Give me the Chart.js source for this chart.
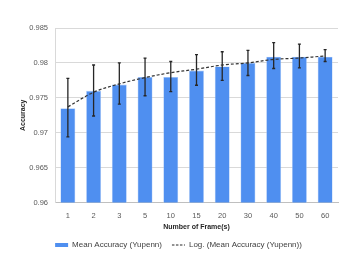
<!DOCTYPE html>
<html>
<head>
<meta charset="utf-8">
<script src="https://cdn.jsdelivr.net/npm/chart.js@4/dist/chart.umd.min.js"></script>
<style>
  html, body { margin: 0; padding: 0; background: #fff; }
  #wrap { width: 349px; height: 262px; }
</style>
</head>
<body>
<div id="wrap"><canvas id="accChart" width="349" height="262"></canvas></div>
<script>
// categories (number of frames)
const frames = ["1", "2", "3", "5", "10", "15", "20", "30", "40", "50", "60"];
// mean accuracy per category
const meanAcc = [0.9735, 0.9760, 0.9769, 0.9780, 0.9780, 0.9789, 0.9795, 0.9800, 0.9809, 0.9809, 0.9809];
// error bar ends
const errHigh = [0.9778, 0.9797, 0.9800, 0.9807, 0.9802, 0.9812, 0.9816, 0.9818, 0.9829, 0.9827, 0.9819];
const errLow = [0.9694, 0.9724, 0.9741, 0.9753, 0.9759, 0.9768, 0.9775, 0.9782, 0.9792, 0.9793, 0.9802];
// log trend line
const trendAcc = [0.9737, 0.9758, 0.9770, 0.9779, 0.9786, 0.9791, 0.9797, 0.9800, 0.9805, 0.9807, 0.9810];
// y ticks
const yTicks = [0.96, 0.965, 0.97, 0.975, 0.98, 0.985];

const labelFont = "'Liberation Sans', Arial, sans-serif";
const barColor = "#4f8ff0";

// error bars drawn on top of the bars
const errorBars = {
    id: "errorBars",
    afterDatasetsDraw(chart) {
        const meta = chart.getDatasetMeta(0);
        const y = chart.scales.y;
        const ctx = chart.ctx;
        ctx.save();
        ctx.strokeStyle = "#262626";
        ctx.lineWidth = 1.3;
        meta.data.forEach((bar, i) => {
            const yTop = y.getPixelForValue(errHigh[i]);
            const yBot = y.getPixelForValue(errLow[i]);
            ctx.beginPath();
            ctx.moveTo(bar.x, yTop);
            ctx.lineTo(bar.x, yBot);
            ctx.moveTo(bar.x - 1.5, yTop);
            ctx.lineTo(bar.x + 1.5, yTop);
            ctx.moveTo(bar.x - 1.5, yBot);
            ctx.lineTo(bar.x + 1.5, yBot);
            ctx.stroke();
        });
        ctx.restore();
    }
};

new Chart(document.getElementById("accChart"), {
    data: {
        labels: frames,
        datasets: [
            {
                type: "bar",
                label: "Mean Accuracy (Yupenn)",
                data: meanAcc,
                backgroundColor: barColor,
                borderColor: "#a9c8f7",
                borderWidth: 0.6,
                categoryPercentage: 1,
                barPercentage: 0.58,
                order: 2
            },
            {
                type: "line",
                label: "Log. (Mean Accuracy (Yupenn))",
                data: trendAcc,
                borderColor: "#333333",
                borderWidth: 1.2,
                borderDash: [3, 2],
                pointRadius: 0,
                tension: 0.35,
                fill: false,
                order: 1
            }
        ]
    },
    options: {
        responsive: false,
        animation: false,
        devicePixelRatio: 1,
        layout: {padding: {left: 19, right: 11, top: 28, bottom: 3}},
        scales: {
            x: {
                grid: {display: false},
                border: {display: true, color: "#bfbfbf", width: 1},
                ticks: {
                    color: "#595959",
                    font: {family: labelFont, size: 7.5},
                    padding: 1,
                    maxRotation: 0
                },
                title: {
                    display: true,
                    text: "Number of Frame(s)",
                    color: "#262626",
                    font: {family: labelFont, size: 7, weight: "bold"},
                    padding: {top: 1, bottom: 0}
                }
            },
            y: {
                min: 0.96,
                max: 0.985,
                afterBuildTicks: (scale) => {
                    scale.ticks = yTicks.map(v => ({value: v}));
                },
                afterFit: (scale) => { scale.width = 36; },
                grid: {color: "#d9d9d9", lineWidth: 1, drawTicks: false},
                border: {display: true, color: "#d9d9d9"},
                ticks: {
                    color: "#595959",
                    font: {family: labelFont, size: 7.5},
                    padding: 7,
                    callback: (v) => String(parseFloat(Number(v).toFixed(3)))
                },
                title: {
                    display: true,
                    text: "Accuracy",
                    color: "#262626",
                    font: {family: labelFont, size: 7, weight: "bold"},
                    padding: {top: 0, bottom: 4}
                }
            }
        },
        plugins: {
            legend: {
                position: "bottom",
                labels: {
                    usePointStyle: true,
                    pointStyleWidth: 13,
                    boxHeight: 4,
                    boxWidth: 13,
                    padding: 10,
                    color: "#404040",
                    font: {family: labelFont, size: 8},
                    generateLabels: (chart) => chart.data.datasets.map((ds, i) => ({
                        text: ds.label,
                        datasetIndex: i,
                        fillStyle: i === 0 ? barColor : "rgba(0,0,0,0)",
                        strokeStyle: i === 0 ? barColor : "#262626",
                        lineWidth: i === 0 ? 0 : 1,
                        lineDash: i === 0 ? [] : [2.5, 1.5],
                        pointStyle: i === 0 ? "rect" : "line",
                        fontColor: "#404040",
                        hidden: false
                    }))
                }
            },
            tooltip: {enabled: false}
        }
    },
    plugins: [errorBars]
});
</script>
</body>
</html>
